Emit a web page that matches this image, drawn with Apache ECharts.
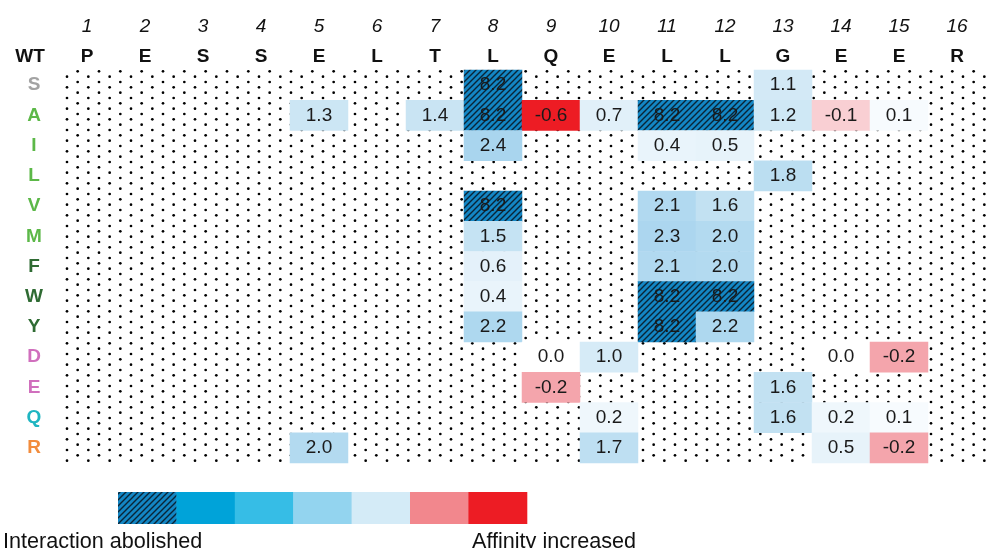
<!DOCTYPE html>
<html><head><meta charset="utf-8">
<script src="https://cdn.jsdelivr.net/npm/echarts@6/dist/echarts.min.js"></script>
<style>html,body{margin:0;padding:0;background:#fff}#c{width:986px;height:548px}</style>
</head><body><div id="c"></div>
<script>
// ---------- DATA ----------
const positions = ['1','2','3','4','5','6','7','8','9','10','11','12','13','14','15','16'];
const wtResidues = ['P','E','S','S','E','L','T','L','Q','E','L','L','G','E','E','R'];
const mutants = ['S','A','I','L','V','M','F','W','Y','D','E','Q','R'];
const n = null;
const rowS = [n,n,n,n,n,n,n,8.2,n,n,n,n,1.1,n,n,n];
const rowA = [n,n,n,n,1.3,n,1.4,8.2,-0.6,0.7,8.2,8.2,1.2,-0.1,0.1,n];
const rowI = [n,n,n,n,n,n,n,2.4,n,n,0.4,0.5,n,n,n,n];
const rowL = [n,n,n,n,n,n,n,n,n,n,n,n,1.8,n,n,n];
const rowV = [n,n,n,n,n,n,n,8.2,n,n,2.1,1.6,n,n,n,n];
const rowM = [n,n,n,n,n,n,n,1.5,n,n,2.3,2.0,n,n,n,n];
const rowF = [n,n,n,n,n,n,n,0.6,n,n,2.1,2.0,n,n,n,n];
const rowW = [n,n,n,n,n,n,n,0.4,n,n,8.2,8.2,n,n,n,n];
const rowY = [n,n,n,n,n,n,n,2.2,n,n,8.2,2.2,n,n,n,n];
const rowD = [n,n,n,n,n,n,n,n,0.0,1.0,n,n,n,0.0,-0.2,n];
const rowE = [n,n,n,n,n,n,n,n,-0.2,n,n,n,1.6,n,n,n];
const rowQ = [n,n,n,n,n,n,n,n,n,0.2,n,n,1.6,0.2,0.1,n];
const rowR = [n,n,n,n,2.0,n,n,n,n,1.7,n,n,n,0.5,-0.2,n];
const ABOLISHED = 8.2; // value shown for "interaction abolished" cells
const legendLeft = 'Interaction abolished';
const legendRight = 'Affinity increased';

// ---------- STYLE ----------
const FONT = 'Liberation Sans, Arial, Helvetica, sans-serif';
const mutantColors = {S:'#a3a3a3',A:'#5cb848',I:'#5cb848',L:'#5cb848',V:'#5cb848',M:'#5cb848',
  F:'#2f6b33',W:'#2f6b33',Y:'#2f6b33',D:'#d06fbd',E:'#d06fbd',Q:'#1fb5c1',R:'#f28c3c'};
const colorStops = [
  [-0.6,[237,28,36]],[-0.2,[244,165,172]],[-0.1,[249,207,211]],[0,[255,255,255]],
  [0.2,[239,247,252]],[0.7,[225,240,249]],[1.0,[214,235,247]],[1.3,[204,230,244]],
  [1.6,[194,225,242]],[2.0,[179,218,240]],[2.4,[169,213,238]]];
function cellColor(v){
  if (v <= colorStops[0][0]) return 'rgb('+colorStops[0][1].join(',')+')';
  for (let i=1;i<colorStops.length;i++){
    if (v <= colorStops[i][0]){
      const [a,ca]=colorStops[i-1],[b,cb]=colorStops[i];
      const t=(v-a)/(b-a);
      return 'rgb('+ca.map((c,k)=>Math.round(c+(cb[k]-c)*t)).join(',')+')';
    }
  }
  return 'rgb('+colorStops[colorStops.length-1][1].join(',')+')';
}
function dotCanvas(){
  const c=document.createElement('canvas'); c.width=64; c.height=32;
  const g=c.getContext('2d'); g.fillStyle='#000';
  const dot=(x,y)=>{g.beginPath(); g.arc(x,y,1.35,0,Math.PI*2); g.fill();};
  for(let i=0;i<3;i++) for(let j=0;j<3;j++){
    const x=i*64/3, y=j*32/3;
    dot(x+3, y+2);
    dot(x+3+32/3, y+2+16/3);
  }
  return c;
}
function hatchCanvas(){
  const c=document.createElement('canvas'); c.width=6; c.height=6;
  const g=c.getContext('2d'); g.fillStyle='#1386c4'; g.fillRect(0,0,6,6);
  g.strokeStyle='#0a2436'; g.lineWidth=1.4;
  g.beginPath(); g.moveTo(-1,7); g.lineTo(7,-1); g.moveTo(-4,4); g.lineTo(4,-4); g.moveTo(2,10); g.lineTo(10,2); g.stroke();
  return c;
}
const dotPattern = {image: dotCanvas(), repeat:'repeat'};
const hatchPattern = {image: hatchCanvas(), repeat:'repeat'};

const rows = [rowS,rowA,rowI,rowL,rowV,rowM,rowF,rowW,rowY,rowD,rowE,rowQ,rowR];
const cells = [];
rows.forEach((r,ri)=>r.forEach((v,ci)=>{
  if (v===null) return;
  cells.push({value:[ci,ri,v], itemStyle:{color: v===ABOLISHED ? hatchPattern : cellColor(v)}});
}));

const legendColors = [hatchPattern,'#00a3d9','#36bde6','#93d4ef','#d4ebf7','#f2878d','#ed1c24'];
const legendX0 = 118, legendW = 58.4, legendY = 492, legendH = 32;
const graphics = [
  {type:'text', style:{text:'WT', x:30, y:57, align:'center', verticalAlign:'middle', fill:'#111', fontSize:19, fontWeight:'bold', fontFamily:FONT}},
  {type:'text', style:{text:legendLeft, x:3, y:542, align:'left', verticalAlign:'middle', fill:'#111', fontSize:21.6, fontFamily:FONT}},
  {type:'text', style:{text:legendRight, x:472, y:542, align:'left', verticalAlign:'middle', fill:'#111', fontSize:21.6, fontFamily:FONT}}
];
legendColors.forEach((c,i)=>graphics.push({type:'rect', shape:{x:legendX0+i*legendW, y:legendY, width:legendW+0.5, height:legendH}, style:{fill:c}}));

const chart = echarts.init(document.getElementById('c'), null, {renderer:'canvas'});
chart.setOption({
  animation:false,
  backgroundColor:'#fff',
  grid:{left:58, top:70, width:934, height:393, show:true, backgroundColor:dotPattern, borderWidth:0},
  xAxis:[
    {type:'category', position:'top', data:positions, offset:30,
     axisLine:{show:false}, axisTick:{show:false}, splitLine:{show:false},
     axisLabel:{fontSize:19, fontStyle:'italic', color:'#111', margin:4, fontFamily:FONT, interval:0}},
    {type:'category', position:'top', data:wtResidues,
     axisLine:{show:false}, axisTick:{show:false}, splitLine:{show:false},
     axisLabel:{fontSize:19, fontWeight:'bold', color:'#111', margin:4, fontFamily:FONT, interval:0}}
  ],
  yAxis:{type:'category', data:mutants, inverse:true,
    axisLine:{show:false}, axisTick:{show:false}, splitLine:{show:false},
    axisLabel:{fontSize:19, fontWeight:'bold', align:'center', margin:24, fontFamily:FONT, interval:0,
      color:(v)=>mutantColors[v]}},
  series:[{
    type:'heatmap', xAxisIndex:0, yAxisIndex:0, data:cells,
    itemStyle:{borderWidth:0},
    emphasis:{disabled:true},
    label:{show:true, fontSize:19, color:'#1a1a1a', fontFamily:FONT,
      formatter:(p)=>p.value[2].toFixed(1)}
  }],
  graphic:graphics
});
</script></body></html>
